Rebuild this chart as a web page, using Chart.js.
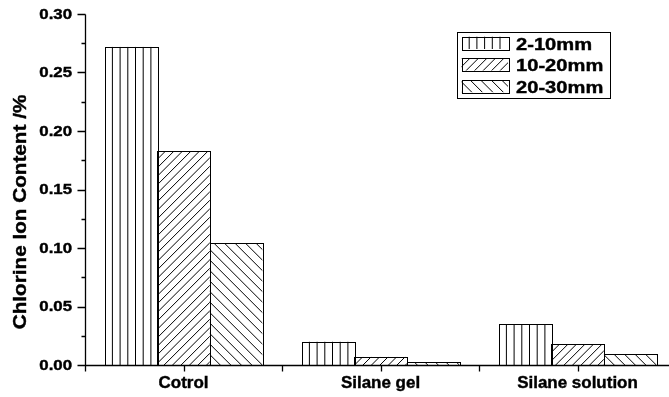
<!DOCTYPE html>
<html>
<head>
<meta charset="utf-8">
<script src="https://cdn.jsdelivr.net/npm/chart.js@4/dist/chart.umd.min.js"></script>
<style>
  html, body { margin: 0; padding: 0; background: #fff; overflow: hidden; }
  #wrap { width: 680px; height: 397px; position: relative; }
</style>
</head>
<body>
<div id="wrap"><canvas id="c"></canvas></div>
<script>
// Chloride ion content by depth range for each surface treatment
const categories = ['Cotrol', 'Silane gel', 'Silane solution'];
const seriesLabels = ['2-10mm', '10-20mm', '20-30mm'];
const depth2to10 = [0.272, 0.020, 0.035];
const depth10to20 = [0.183, 0.007, 0.018];
const depth20to30 = [0.104, 0.0025, 0.009];
const yTickLabels = ['0.00', '0.05', '0.10', '0.15', '0.20', '0.25', '0.30'];
const yTitle = 'Chlorine Ion Content /%';

const hatchKinds = ['vertical', 'forward', 'back'];
const FONT = '"Liberation Sans", Arial, Helvetica, sans-serif';

function hatch(ctx, kind, x, y, w, h) {
  ctx.save();
  ctx.beginPath();
  ctx.rect(x, y, w, h);
  ctx.clip();
  ctx.strokeStyle = '#000';
  ctx.lineWidth = 1;
  ctx.beginPath();
  if (kind === 'vertical') {
    for (let px = x + 7.7; px < x + w - 0.5; px += 7.7) {
      ctx.moveTo(px, y); ctx.lineTo(px, y + h);
    }
  } else if (kind === 'forward') {
    const s = 8.5;
    for (let px = x - h; px < x + w + s; px += s) {
      ctx.moveTo(px, y + h); ctx.lineTo(px + h, y);
    }
  } else {
    const s = 10.5;
    for (let px = x - h; px < x + w + s; px += s) {
      ctx.moveTo(px, y); ctx.lineTo(px + h, y + h);
    }
  }
  ctx.stroke();
  ctx.restore();
}

function text(ctx, str, x, y, size, sx, align, baseline, rot) {
  ctx.save();
  ctx.font = 'bold ' + size + 'px ' + FONT;
  ctx.fillStyle = '#000';
  ctx.strokeStyle = '#000';
  ctx.lineWidth = 0.4;
  ctx.textAlign = align;
  ctx.textBaseline = baseline;
  ctx.translate(x, y);
  if (rot) ctx.rotate(rot);
  ctx.scale(sx, 1);
  ctx.fillText(str, 0, 0);
  ctx.strokeText(str, 0, 0);
  ctx.restore();
}

// Fills each bar with its hatch pattern
const hatchPlugin = {
  id: 'hatchFill',
  afterDatasetsDraw(chart) {
    const ctx = chart.ctx;
    chart.data.datasets.forEach((ds, i) => {
      const meta = chart.getDatasetMeta(i);
      meta.data.forEach(bar => {
        const p = bar.getProps(['x', 'y', 'base', 'width'], true);
        const left = p.x - p.width / 2;
        const top = Math.min(p.y, p.base);
        const h = Math.abs(p.base - p.y);
        hatch(ctx, hatchKinds[i], left, top, p.width, h);
        ctx.save();
        ctx.strokeStyle = '#000';
        ctx.lineWidth = 1;
        ctx.strokeRect(Math.round(left) + 0.5, Math.round(top) + 0.5, Math.round(p.width), Math.round(h));
        ctx.restore();
      });
    });
  }
};

// Axes, ticks, labels, title and boxed legend
const decorPlugin = {
  id: 'axisDecor',
  afterDraw(chart) {
    const ctx = chart.ctx;
    const xs = chart.scales.x;
    const ys = chart.scales.y;
    const area = chart.chartArea;
    const ax = Math.round(area.left) + 0.5;
    const ay = Math.round(ys.getPixelForValue(0)) + 0.5;

    ctx.save();
    ctx.strokeStyle = '#000';
    ctx.lineWidth = 1.3;
    ctx.beginPath();
    // axis lines
    ctx.moveTo(ax, Math.round(ys.getPixelForValue(0.30)) + 0.5);
    ctx.lineTo(ax, ay);
    ctx.lineTo(Math.round(area.right), ay);
    // y major ticks
    yTickLabels.forEach(t => {
      const py = Math.round(ys.getPixelForValue(parseFloat(t))) + 0.5;
      ctx.moveTo(ax - 8, py); ctx.lineTo(ax, py);
    });
    // y minor ticks
    for (let k = 0; k < yTickLabels.length - 1; k++) {
      const v = (parseFloat(yTickLabels[k]) + parseFloat(yTickLabels[k + 1])) / 2;
      const py = Math.round(ys.getPixelForValue(v)) + 0.5;
      ctx.moveTo(ax - 4, py); ctx.lineTo(ax, py);
    }
    // x ticks at category centres and boundaries
    const half = (xs.getPixelForValue(1) - xs.getPixelForValue(0)) / 2;
    categories.forEach((c, i) => {
      const cx = Math.round(xs.getPixelForValue(i)) + 0.5;
      const bx = Math.round(xs.getPixelForValue(i) - half) + 0.5;
      ctx.moveTo(cx, ay); ctx.lineTo(cx, ay + 6);
      ctx.moveTo(bx, ay); ctx.lineTo(bx, ay + 6);
    });
    ctx.stroke();
    ctx.restore();

    // y tick labels
    yTickLabels.forEach(t => {
      text(ctx, t, 72, ys.getPixelForValue(parseFloat(t)) + 1, 14, 1.2, 'right', 'middle');
    });
    // category labels
    categories.forEach((c, i) => {
      text(ctx, c, xs.getPixelForValue(i), 388, 16, 1.06, 'center', 'alphabetic');
    });
    // y axis title
    text(ctx, yTitle, 26, 212, 18, 1.15, 'center', 'alphabetic', -Math.PI / 2);

    // legend
    const lx = 457.5, ly = 32.5, lw = 153, lh = 66;
    ctx.save();
    ctx.strokeStyle = '#000';
    ctx.lineWidth = 1;
    ctx.strokeRect(lx, ly, lw, lh);
    ctx.restore();
    chart.data.datasets.forEach((ds, i) => {
      const by = 36.5 + i * 21.7;
      const bx = 461.5, bw = 46.5, bh = 12.5;
      ctx.save();
      ctx.fillStyle = '#fff';
      ctx.fillRect(bx, by, bw, bh);
      ctx.restore();
      hatch(ctx, hatchKinds[i], bx, by, bw, bh);
      ctx.save();
      ctx.strokeStyle = '#000';
      ctx.lineWidth = 1;
      ctx.strokeRect(Math.round(bx) + 0.5, Math.round(by) + 0.5, Math.round(bw), Math.round(bh));
      ctx.restore();
      text(ctx, ds.label, 516, by + 13, 16.5, 1.22, 'left', 'alphabetic');
    });
  }
};

const seriesValues = [depth2to10, depth10to20, depth20to30];

new Chart(document.getElementById('c'), {
  type: 'bar',
  data: {
    labels: categories,
    datasets: seriesLabels.map((label, i) => ({
      label: label,
      data: seriesValues[i],
      backgroundColor: '#fff',
      borderColor: '#000',
      borderWidth: 0,
      categoryPercentage: 0.8,
      barPercentage: 1.0
    }))
  },
  options: {
    responsive: true,
    maintainAspectRatio: false,
    animation: false,
    devicePixelRatio: 1,
    layout: { padding: { top: 14, right: 4, left: 0, bottom: 0 } },
    plugins: { legend: { display: false }, tooltip: { enabled: false } },
    scales: {
      x: {
        type: 'category',
        offset: true,
        grid: { display: false },
        border: { display: false },
        ticks: { display: false },
        afterFit(s) { s.height = 32; }
      },
      y: {
        min: 0,
        max: 0.30,
        grid: { display: false },
        border: { display: false },
        ticks: { display: false, stepSize: 0.05 },
        afterFit(s) { s.width = 85; }
      }
    }
  },
  plugins: [hatchPlugin, decorPlugin]
});
</script>
</body>
</html>
